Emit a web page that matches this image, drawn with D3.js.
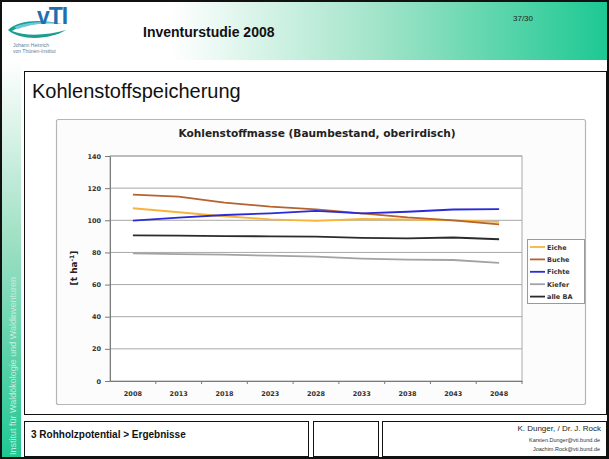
<!DOCTYPE html>
<html>
<head>
<meta charset="utf-8">
<script src="https://cdn.jsdelivr.net/npm/d3@7"></script>
<style>
  body { margin: 0; background: #fff; }
  svg { display: block; font-family: "Liberation Sans", Arial, sans-serif; }
</style>
</head>
<body>
<svg id="slide"></svg>
<script>
const years = ["2008", "2013", "2018", "2023", "2028", "2033", "2038", "2043", "2048"];
const yTicks = [0, 20, 40, 60, 80, 100, 120, 140];

const eiche = [107.5, 105, 102.5, 100.6, 99.6, 100.8, 100.5, 100, 99];
const buche = [116, 114.7, 111, 108.5, 106.8, 104.3, 101.8, 100, 97.5];
const fichte = [99.8, 101.6, 103.3, 104.3, 105.8, 104.3, 105.3, 106.7, 107];
const kiefer = [79.4, 79, 78.6, 78, 77.4, 76.2, 75.5, 75.3, 73.5];
const alleBA = [90.6, 90.4, 90.2, 90, 89.8, 89.1, 88.8, 89.3, 88.2];

const seriesNames = ["Eiche", "Buche", "Fichte", "Kiefer", "alle BA"];
const seriesValues = [eiche, buche, fichte, kiefer, alleBA];
const seriesColors = ["#f7b43a", "#b5622f", "#2a2ad8", "#a3a3a3", "#2b2b2b"];

const chartFont = "DejaVu Sans, Verdana, sans-serif";

const W = 609, H = 459;
const svg = d3.select("#slide").attr("width", W).attr("height", H);

const defs = svg.append("defs");
const hg = defs.append("linearGradient").attr("id", "headGrad");
hg.append("stop").attr("offset", "0%").attr("stop-color", "#ffffff");
hg.append("stop").attr("offset", "28%").attr("stop-color", "#ffffff");
hg.append("stop").attr("offset", "62%").attr("stop-color", "#a2e4c9");
hg.append("stop").attr("offset", "100%").attr("stop-color", "#1cc892");

const sg = defs.append("linearGradient").attr("id", "sideGrad")
  .attr("x1", 0).attr("y1", 0).attr("x2", 0).attr("y2", 1);
sg.append("stop").attr("offset", "0%").attr("stop-color", "#ffffff");
sg.append("stop").attr("offset", "45%").attr("stop-color", "#9fe0c4");
sg.append("stop").attr("offset", "100%").attr("stop-color", "#1fc692");

// header band + side strip
svg.append("rect").attr("x", 0).attr("y", 0).attr("width", W).attr("height", 60)
  .attr("fill", "url(#headGrad)");
svg.append("rect").attr("x", 2).attr("y", 60).attr("width", 19).attr("height", H - 60)
  .attr("fill", "url(#sideGrad)");

svg.append("text")
  .attr("transform", "translate(16,455) rotate(-90)")
  .attr("font-size", 9).attr("fill", "#c4eedc")
  .text("Institut für Waldökologie und Waldinventuren");

// logo
const logo = svg.append("g");
logo.append("path")
  .attr("d", "M8,30 C18,20 40,19 62,24 C44,22 22,24 12,31 C24,36 46,36 66,30 C50,40 20,41 8,30 Z")
  .attr("fill", "#1a9f8e");
logo.append("path")
  .attr("d", "M14,27 C26,22 44,21 58,23 C42,23 28,25 18,29 Z")
  .attr("fill", "#6cc6dd");
logo.append("text").attr("x", 37).attr("y", 24)
  .attr("font-size", 23).attr("font-weight", "bold").attr("fill", "#1f6fb0")
  .attr("letter-spacing", -1).text("vTI");
logo.append("text").attr("x", 13).attr("y", 47).attr("font-size", 5).attr("fill", "#5a7fa0")
  .text("Johann Heinrich");
logo.append("text").attr("x", 13).attr("y", 53).attr("font-size", 5).attr("fill", "#5a7fa0")
  .text("von Thünen-Institut");

svg.append("text").attr("x", 143).attr("y", 37)
  .attr("font-size", 14).attr("font-weight", "bold").attr("fill", "#111")
  .text("Inventurstudie 2008");
svg.append("text").attr("x", 513).attr("y", 21)
  .attr("font-size", 8).attr("fill", "#222").text("37/30");

// content box
svg.append("rect").attr("x", 24.5).attr("y", 71.5).attr("width", 582).attr("height", 343)
  .attr("fill", "#fff").attr("stroke", "#111").attr("stroke-width", 1);
svg.append("text").attr("x", 32).attr("y", 98)
  .attr("font-size", 20).attr("fill", "#111").text("Kohlenstoffspeicherung");

// chart area
svg.append("rect").attr("x", 56.5).attr("y", 119.5).attr("width", 529).attr("height", 285)
  .attr("rx", 2).attr("fill", "#fcfcfc").attr("stroke", "#b5b5b5").attr("stroke-width", 1.2);

svg.append("text").attr("x", 317).attr("y", 137)
  .attr("text-anchor", "middle").attr("font-size", 10.6).attr("font-weight", "bold")
  .attr("font-family", chartFont).attr("fill", "#222")
  .text("Kohlenstoffmasse (Baumbestand, oberirdisch)");

const x = d3.scaleBand().domain(years).range([110, 522]);
const y = d3.scaleLinear().domain([0, 140]).range([381, 156]);

const plot = svg.append("g");
plot.append("rect").attr("x", x.range()[0]).attr("y", y(140))
  .attr("width", x.range()[1] - x.range()[0]).attr("height", y(0) - y(140))
  .attr("fill", "#fff").attr("stroke", "#a8a8a8");

plot.selectAll(".grid").data(yTicks.filter((d) => d > 0)).enter()
  .append("line").attr("class", "grid")
  .attr("x1", x.range()[0]).attr("x2", x.range()[1])
  .attr("y1", (d) => y(d)).attr("y2", (d) => y(d))
  .attr("stroke", "#a8a8a8").attr("stroke-width", 1);

// y axis
const yAxis = svg.append("g").attr("transform", `translate(${x.range()[0]},0)`)
  .call(d3.axisLeft(y).tickValues(yTicks).tickSize(5).tickPadding(4));
yAxis.select(".domain").attr("stroke", "#7a7a7a");
yAxis.selectAll(".tick line").attr("stroke", "#7a7a7a");
yAxis.selectAll("text").attr("font-size", 6.5).attr("font-weight", "bold")
  .attr("fill", "#333").attr("font-family", chartFont);

// x axis
const xAxis = svg.append("g").attr("transform", `translate(0,${y(0)})`)
  .call(d3.axisBottom(x).tickSize(0).tickPadding(10));
xAxis.select(".domain").attr("stroke", "#7a7a7a");
xAxis.selectAll("text").attr("font-size", 6.5).attr("font-weight", "bold")
  .attr("fill", "#333").attr("font-family", chartFont);
xAxis.selectAll(".bound").data(years.slice(1).concat(["end"])).enter()
  .append("line").attr("class", "bound")
  .attr("x1", (d) => (d === "end" ? x.range()[1] : x(d)))
  .attr("x2", (d) => (d === "end" ? x.range()[1] : x(d)))
  .attr("y1", 0).attr("y2", 3).attr("stroke", "#7a7a7a");

const yl = svg.append("text")
  .attr("transform", "translate(77,268) rotate(-90)")
  .attr("text-anchor", "middle").attr("font-size", 9).attr("font-weight", "bold")
  .attr("font-family", chartFont).attr("fill", "#222");
yl.append("tspan").text("[t ha");
yl.append("tspan").attr("font-size", 6).attr("dy", -3.5).text("-1");
yl.append("tspan").attr("dy", 3.5).text("]");

// series lines
const line = d3.line()
  .x((d, i) => x(years[i]) + x.bandwidth() / 2)
  .y((d) => y(d));

svg.selectAll(".series").data(seriesValues).enter()
  .append("path").attr("class", "series")
  .attr("fill", "none")
  .attr("stroke", (d, i) => seriesColors[i])
  .attr("stroke-width", 1.8)
  .attr("d", (d) => line(d));

// legend
const legend = svg.append("g").attr("transform", "translate(527,239)");
legend.append("rect").attr("x", 0.5).attr("y", 0.5).attr("width", 57).attr("height", 64)
  .attr("fill", "#fff").attr("stroke", "#9a9a9a");
legend.selectAll("line").data(seriesNames).enter().append("line")
  .attr("x1", 3).attr("x2", 18)
  .attr("y1", (d, i) => 8 + i * 12.4).attr("y2", (d, i) => 8 + i * 12.4)
  .attr("stroke", (d, i) => seriesColors[i]).attr("stroke-width", 1.8);
legend.selectAll("text").data(seriesNames).enter().append("text")
  .attr("x", 20).attr("y", (d, i) => 10.5 + i * 12.4)
  .attr("font-size", 6.5).attr("font-weight", "bold").attr("font-family", chartFont)
  .attr("fill", "#333")
  .text((d) => d);

// footer boxes
const boxes = [[24.5, 284], [313.5, 65], [382.5, 224]];
svg.selectAll(".fbox").data(boxes).enter().append("rect").attr("class", "fbox")
  .attr("x", (d) => d[0]).attr("y", 421.5).attr("width", (d) => d[1]).attr("height", 35)
  .attr("fill", "#fff").attr("stroke", "#111").attr("stroke-width", 1);
svg.append("text").attr("x", 31).attr("y", 438)
  .attr("font-size", 10).attr("font-weight", "bold").attr("fill", "#111")
  .text("3 Rohholzpotential > Ergebnisse");
svg.append("text").attr("x", 601).attr("y", 431).attr("text-anchor", "end")
  .attr("font-size", 8).attr("fill", "#222").text("K. Dunger, / Dr. J. Rock");
svg.append("text").attr("x", 600).attr("y", 442).attr("text-anchor", "end")
  .attr("font-size", 5.5).attr("fill", "#333").text("Karsten.Dunger@vti.bund.de");
svg.append("text").attr("x", 600).attr("y", 451).attr("text-anchor", "end")
  .attr("font-size", 5.5).attr("fill", "#333").text("Joachim.Rock@vti.bund.de");

// outer frame
svg.append("rect").attr("x", 1).attr("y", 1).attr("width", W - 2).attr("height", H - 2)
  .attr("fill", "none").attr("stroke", "#111").attr("stroke-width", 2);
</script>
</body>
</html>
